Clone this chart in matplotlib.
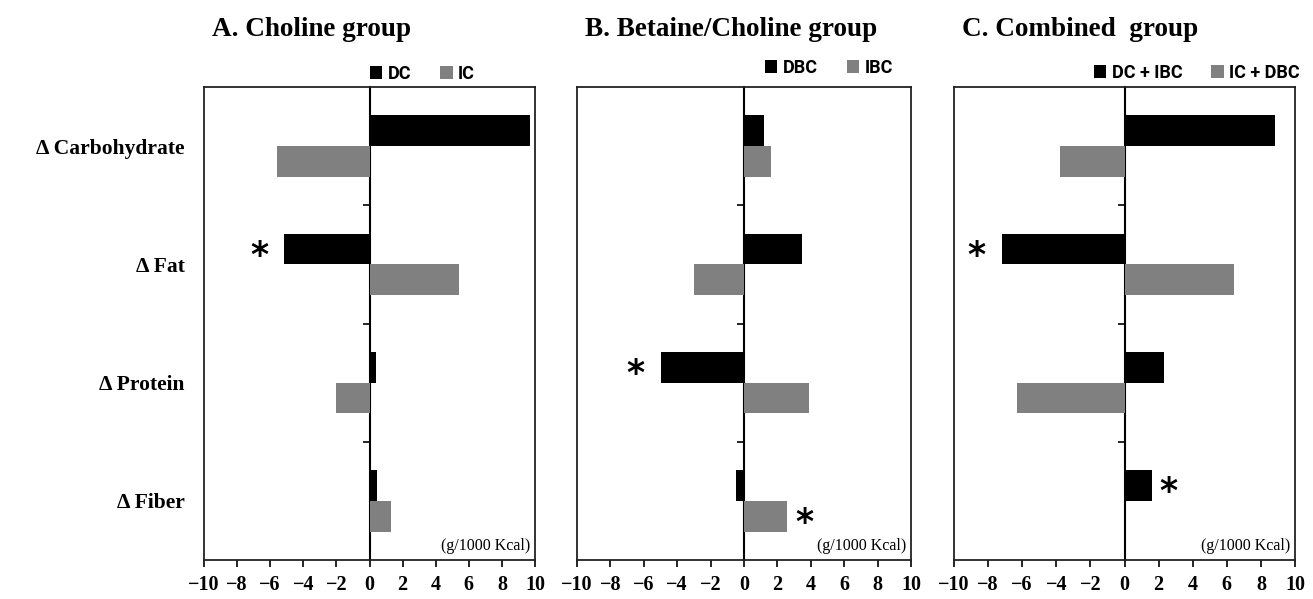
import matplotlib.pyplot as plt
import numpy as np

categories = ['\u0394 Carbohydrate', '\u0394 Fat', '\u0394 Protein', '\u0394 Fiber']
titles = ['A. Choline group', 'B. Betaine/Choline group', 'C. Combined  group']
series_names = [['DC', 'IC'], ['DBC', 'IBC'], ['DC + IBC', 'IC + DBC']]

# (g/1000 Kcal)
a_dark = [9.7, -5.15, 0.4, 0.45]
a_grey = [-5.6, 5.4, -2.05, 1.3]
b_dark = [1.2, 3.5, -5.0, -0.5]
b_grey = [1.6, -3.0, 3.9, 2.6]
c_dark = [8.8, -7.2, 2.3, 1.6]
c_grey = [-3.8, 6.45, -6.3, 0.05]

# significance stars: (category index, which series 0=dark 1=grey)
a_stars = [(1, 0)]
b_stars = [(2, 0), (3, 1)]
c_stars = [(1, 0), (3, 0)]

panels = [(a_dark, a_grey, a_stars), (b_dark, b_grey, b_stars), (c_dark, c_grey, c_stars)]

W, H = 1313, 599
fig = plt.figure(figsize=(W / 100, H / 100), dpi=100)

# axes boxes in pixels: left, right
boxes = [(204, 535), (577, 911), (954, 1295)]
top, bottom = 87, 560
legend_right = [475, 893, 1300]
legend_y = [74, 68, 73]
serif = ['Liberation Serif', 'DejaVu Serif']
sans = ['Liberation Sans Narrow', 'Roboto', 'DejaVu Sans']

y = np.arange(len(categories))
h = 0.26

for k, (dark, grey, stars) in enumerate(panels):
    l, r = boxes[k]
    ax = fig.add_axes([l / W, (H - bottom) / H, (r - l) / W, (bottom - top) / H])
    ax.barh(y - h / 2, dark, height=h, color='black', label=series_names[k][0])
    ax.barh(y + h / 2, grey, height=h, color='#808080', label=series_names[k][1])
    ax.set_xlim(-10, 10)
    ax.set_ylim(len(categories) - 0.5, -0.5)
    ax.set_xticks(np.arange(-10, 11, 2))
    ax.set_xticklabels(['\u2212%d' % abs(v) if v < 0 else '%d' % v for v in range(-10, 11, 2)],
                       fontfamily=serif, fontweight='bold', fontsize=14.5)
    ax.tick_params(axis='x', length=5, width=1.2, direction='out', pad=6)
    ax.set_yticks(y)
    if k == 0:
        ax.set_yticklabels(categories, fontfamily=serif, fontweight='bold', fontsize=15.5)
        ax.tick_params(axis='y', length=0, pad=14)
        for t in ax.get_yticklabels():
            t.set_y(t.get_position()[1])
    else:
        ax.set_yticklabels([])
        ax.tick_params(axis='y', length=0)
    for s in ax.spines.values():
        s.set_linewidth(1.3)
        s.set_color('#222222')

    # zero axis with tick marks between categories
    sec = ax.secondary_yaxis(0.5)
    sec.set_yticks(y[:-1] + 0.5)
    sec.set_yticklabels([])
    sec.tick_params(axis='y', length=5, width=1.2, direction='in')
    for s in sec.spines.values():
        s.set_linewidth(1.5)

    for ci, si in stars:
        v = dark[ci] if si == 0 else grey[ci]
        yy = y[ci] - h / 2 if si == 0 else y[ci] + h / 2
        dx = -18 if v < 0 else 12
        ax.annotate('*', (v, yy), xytext=(dx, -5), textcoords='offset points',
                    ha='center', va='center', fontsize=25, fontweight='bold',
                    fontfamily='DejaVu Sans')

    ax.text(0.985, 0.012, '(g/1000 Kcal)', transform=ax.transAxes, ha='right', va='bottom',
            fontfamily=serif, fontsize=11.5)

    fig.text((l + 8) / W, 1 - 30 / H, titles[k], ha='left', va='center',
             fontfamily=serif, fontweight='bold', fontsize=19.5)

    ax.legend(loc='center right', bbox_to_anchor=((legend_right[k] - l) / (r - l),
              1 + (top - legend_y[k]) / (bottom - top)),
              ncol=2, frameon=False, handlelength=0.7, handleheight=0.7,
              handletextpad=0.3, columnspacing=1.6, borderaxespad=0, borderpad=0,
              prop={'family': sans, 'weight': 'bold', 'size': 13})

fig.savefig('out.png', dpi=100)
